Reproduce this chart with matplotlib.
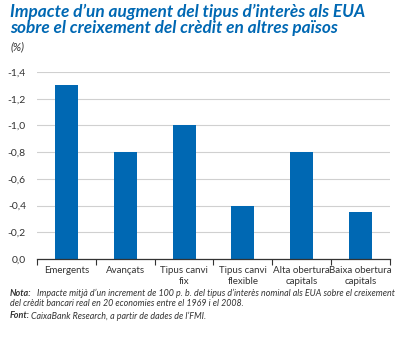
import numpy as np
import matplotlib
matplotlib.use('Agg')
import matplotlib.pyplot as plt

plt.rcParams['font.family'] = ['Lato', 'DejaVu Sans']

categories = ['Emergents', 'Avançats', 'Tipus canvi\nfix', 'Tipus canvi\nflexible',
              'Alta obertura\ncapitals', 'Baixa obertura\ncapitals']
values = [-1.3, -0.8, -1.0, -0.4, -0.8, -0.35]
yticks = [0.0, -0.2, -0.4, -0.6, -0.8, -1.0, -1.2, -1.4]

blue = '#0068b3'
grey = '#333333'

fig = plt.figure(figsize=(4.01, 3.38), dpi=100)
ax = fig.add_axes([37 / 401, 1 - 259 / 338, 353 / 401, 187 / 338])

x = np.arange(len(categories))
ax.bar(x, values, width=0.39, color=blue, zorder=3)

ax.set_xlim(-0.5, len(categories) - 0.5)
ax.set_ylim(0, -1.4)
ax.set_yticks(yticks)
ax.set_yticklabels([('%.1f' % v).replace('.', ',') if v != 0 else '0,0' for v in yticks],
                   fontsize=7.5, color=grey)
ax.tick_params(axis='y', length=0, pad=8)
ax.grid(axis='y', color='#d0d0d0', linewidth=0.8, zorder=0)

ax.set_xticks(x)
ax.set_xticklabels(categories, fontsize=7, color=grey, linespacing=1.25)
ax.tick_params(axis='x', length=0, pad=5)
ax.set_xticks(np.arange(-0.5, len(categories)), minor=True)
ax.tick_params(axis='x', which='minor', length=4, width=0.8, color=grey, direction='out')

for s in ['left', 'right', 'top']:
    ax.spines[s].set_visible(False)
ax.spines['bottom'].set_color(grey)
ax.spines['bottom'].set_linewidth(0.9)
ax.spines['bottom'].set_zorder(4)

fig.text(10 / 401, 1 - 4 / 338, 'Impacte d’un augment del tipus d’interès als EUA\nsobre el creixement del crèdit en altres països',
         fontsize=12.4, fontweight='bold', fontstyle='italic', color=blue, va='top', ha='left',
         linespacing=1.0)
fig.text(11 / 401, 1 - 47 / 338, '(%)', fontsize=8, fontstyle='italic', color=grey, va='center')

fig.text(10 / 401, 1 - 293 / 338, 'Nota:', fontsize=6.5, fontweight='bold', fontstyle='italic',
         color=grey, va='center')
fig.text(37 / 401, 1 - 293 / 338,
         'Impacte mitjà d’un increment de 100 p. b. del tipus d’interès nominal als EUA sobre el creixement',
         fontsize=6.4, fontstyle='italic', color=grey, va='center')
fig.text(10 / 401, 1 - 304 / 338, 'del crèdit bancari real en 20 economies entre el 1969 i el 2008.',
         fontsize=6.4, fontstyle='italic', color=grey, va='center')
fig.text(10 / 401, 1 - 316 / 338, 'Font:', fontsize=6.5, fontweight='bold', fontstyle='italic',
         color=grey, va='center')
fig.text(31 / 401, 1 - 316 / 338, 'CaixaBank Research, a partir de dades de l’FMI.', fontsize=6.4,
         fontstyle='italic', color=grey, va='center')

fig.savefig('out.png', dpi=100)
